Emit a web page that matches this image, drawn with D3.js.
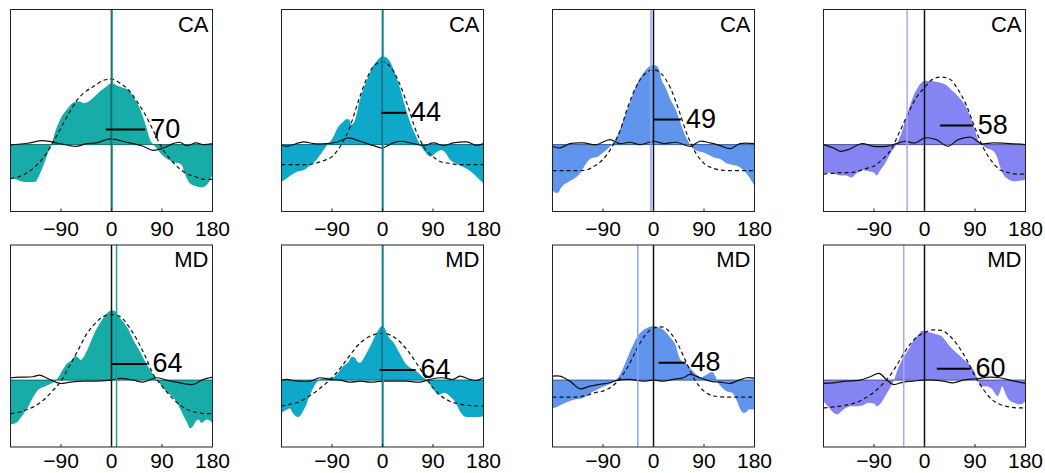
<!DOCTYPE html>
<html>
<head>
<meta charset="utf-8">
<script src="https://cdn.jsdelivr.net/npm/d3@7"></script>
<style>
  body { margin: 0; background: #fff; }
  text { font-family: "Liberation Sans", Arial, Helvetica, sans-serif; }
</style>
</head>
<body>
<div id="chart"></div>
<script>

// ---- data (angle in deg, response in arbitrary units) ----
var areas = ["CA", "MD"];
var tickValues = [-90, 0, 90, 180];
var tickLabels = ["\u221290", "0", "90", "180"];
var fitAngles = [-180, -165, -150, -135, -120, -105, -90, -75, -60, -45, -30, -15, 0,
                 15, 30, 45, 60, 75, 90, 105, 120, 135, 150, 165, 180];

// measured tuning (filled)
var fillCA1 = [[-180,-25],[-170,-26],[-160,-27.5],[-150,-28],[-140,-28],[-135,-27.5],[-130,-24],[-120,-14],[-113,-6],[-107,0],[-100,10],[-90,20],[-80,26],[-70,31],[-60,32.5],[-55,32],[-50,31],[-40,32.5],[-30,36],[-20,40],[-10,43],[0,46],[10,44],[20,42.5],[30,41],[40,35],[50,27.5],[60,16],[70,2.5],[75,0],[80,-2.5],[90,-7.5],[100,-11],[110,-13],[120,-14],[125,-15],[130,-21],[140,-29],[150,-31],[160,-32],[170,-30],[180,-22.5]];
var fillCA2 = [[-180,-28],[-170,-25],[-160,-22],[-150,-20],[-140,-19],[-130,-16],[-120,-12.5],[-110,-7],[-100,-1],[-90,4],[-80,12.5],[-70,17],[-65,19],[-60,19],[-55,15],[-50,17.5],[-40,34],[-30,46],[-20,56],[-10,62.5],[0,66],[10,64],[20,56],[30,44],[40,29],[50,16],[60,6],[67,0],[75,-5],[85,-9],[95,-6],[105,-4],[112,-6],[120,-11],[130,-14],[140,-16],[150,-18],[160,-21],[170,-25],[180,-29]];
var fillCA3 = [[-180,-34],[-175,-36],[-170,-36],[-165,-32.5],[-160,-30],[-150,-27.5],[-140,-25],[-130,-21],[-120,-14],[-110,-10],[-100,-9],[-90,-6],[-80,-2.5],[-70,2.5],[-60,11],[-50,22.5],[-40,34],[-30,45],[-20,52.5],[-10,57.5],[0,59.5],[5,59],[10,56],[15,47.5],[20,44],[30,34],[40,26],[50,14],[60,4],[70,-2.5],[80,-5],[90,-6],[100,-8],[110,-10],[120,-11],[130,-14],[140,-15],[150,-16],[160,-19],[170,-24],[180,-31]];
var fillCA4 = [[-180,-22],[-170,-21],[-160,-22],[-150,-23],[-140,-23],[-130,-24.5],[-120,-21],[-110,-19],[-100,-20],[-90,-21],[-85,-23],[-80,-20],[-70,-14],[-60,-6],[-50,0],[-40,10],[-30,24],[-20,36],[-10,44],[0,47.5],[10,47.5],[20,47],[30,46],[40,44],[50,40],[60,36],[70,31],[80,22.5],[90,11],[95,4],[100,1],[110,-2.5],[120,-4],[128,-8],[135,-17],[140,-22],[150,-26],[160,-27.5],[170,-27],[180,-26]];
var fillMD1 = [[-180,-33],[-170,-32],[-160,-27],[-150,-21],[-140,-13],[-130,-7],[-120,-5],[-110,-3],[-100,-0.75],[-95,1.75],[-90,5.5],[-80,12],[-70,15.5],[-65,18],[-60,17],[-55,15],[-50,17],[-40,25.5],[-30,35.5],[-20,43],[-10,49],[0,52],[5,52],[10,49],[20,44],[30,38],[40,29],[50,22],[60,14],[70,7],[80,0.5],[90,-4.5],[100,-9.5],[110,-13],[120,-19.5],[130,-28],[135,-32],[140,-36],[145,-34.5],[150,-31],[155,-29.5],[160,-32],[170,-29.5],[180,-32]];
var fillMD2 = [[-180,-24.5],[-170,-22],[-165,-21],[-160,-24.5],[-150,-27.5],[-140,-22],[-130,-12],[-120,-3.25],[-115,-0.75],[-110,1],[-100,1.75],[-90,1.75],[-80,5],[-70,10.5],[-60,14],[-55,17.5],[-50,17],[-45,14],[-40,13],[-35,15.5],[-30,19],[-20,27],[-10,35.5],[-5,39],[0,40.5],[5,38],[10,33],[20,28],[30,20.5],[40,13],[50,9],[60,6.75],[70,3],[80,-0.75],[90,-6.5],[100,-11],[110,-9.5],[120,-12],[130,-16.5],[140,-24.5],[150,-27.5],[160,-27.5],[170,-27.5],[180,-27]];
var fillMD3 = [[-180,-21.5],[-170,-19.5],[-160,-17.5],[-150,-15.75],[-140,-14.5],[-130,-14],[-120,-12],[-110,-9],[-100,-7],[-90,-5],[-80,-3.25],[-70,-1],[-60,4],[-50,13],[-40,23],[-30,31.75],[-20,36.75],[-10,39.25],[0,40.5],[10,39.25],[20,36.75],[30,31.75],[40,25.5],[45,18],[50,14.25],[55,13],[60,11.75],[70,6.75],[80,3],[85,1.75],[90,3],[95,4.25],[100,5.5],[105,6],[110,3],[115,-2],[120,-4.5],[130,-8.25],[140,-9.5],[145,-12],[150,-17],[155,-22],[160,-24.5],[165,-24],[170,-22],[180,-22]];
var fillMD4 = [[-180,-15.75],[-170,-20.75],[-165,-23.25],[-160,-25],[-155,-25.75],[-150,-24],[-140,-20.75],[-130,-19.5],[-120,-19.5],[-110,-19],[-100,-17],[-90,-17.5],[-85,-19.5],[-80,-18.25],[-70,-12],[-60,-4.5],[-55,-0.75],[-50,5.5],[-40,15.5],[-30,21.75],[-20,29.25],[-10,34.25],[-5,36.75],[0,36.75],[10,35.5],[20,34.25],[30,33],[40,28],[50,23],[60,19.25],[70,15.5],[80,11.75],[90,5.5],[95,0],[100,-4.5],[110,-4.5],[120,-6.5],[125,-9.5],[130,-12],[135,-8.25],[138,-4.5],[145,-10.75],[150,-14.5],[160,-17],[170,-18.25],[180,-15.75]];

// fitted tuning (dashed), on fitAngles
var fitCA1 = [-25.5,-24,-21,-16,-9,1,12.5,24,34,40,44,48,49,46,41,32.5,22.5,10,-2.5,-11,-17.5,-22,-24,-26,-26];
var fitCA2 = [-15,-15,-15,-15,-14,-12,-9,-1,11,30,47.5,59,62,57.5,46,29,10,-2.5,-9,-13,-14,-15,-15,-15,-15];
var fitCA3 = [-19.5,-19.5,-19.5,-19.5,-19,-16,-11,-2.5,10,29,44,53,56,52.5,42.5,26,7.5,-6,-14,-17.5,-19,-19.5,-19.5,-19.5,-19.5];
var fitCA4 = [-22,-21.5,-21,-21,-20,-18,-16,-11,-4,9,22.5,35,42.5,49,50.5,49,41,29,12.5,-2.5,-12.5,-19,-21,-22,-22];
var fitMD1 = [-25,-24,-22,-19,-14.5,-8,-0.75,10.5,22,34,42,47.5,49,47.5,40.5,30.5,18,4,-4.5,-12,-18,-22,-24,-25,-25];
var fitMD2 = [-19.5,-18,-16.5,-13,-9,-4,1.75,9,17.5,25.5,31,34,35,33.5,29,22,13,3,-5.75,-12,-15.75,-17.75,-18.75,-19.25,-19.5];
var fitMD3 = [-12.75,-12.75,-12.75,-12.5,-11.5,-9.5,-8.25,-5,1,10.5,23,33.5,38.75,39.75,35.5,25.5,11.75,-0.75,-8.25,-11.5,-12.5,-12.75,-12.75,-12.75,-12.75];
var fitMD4 = [-20.75,-20.25,-19.5,-18.25,-16.5,-13.25,-9,-3.25,4.25,14.25,24.25,31.75,35.5,37.5,37.25,33,25.5,15.5,3,-7,-14.5,-18.25,-20,-20.75,-20.75];

// shuffled control (thin black)
var shufCA1 = [[-180,-0.25],[-150,1],[-122,3],[-95,1],[-62,-1.25],[-45,0.75],[-27,1.25],[-3,4.25],[27,1.75],[56,-1.25],[74,-4.25],[92,-2.5],[110,0.75],[122,1.75],[134,-0.75],[151,1.25],[163,0],[180,0.75]];
var shufCA2 = [[-180,-0.5],[-170,-1.25],[-141,2],[-123,0.75],[-100,0.75],[-82,1.75],[-61,5],[-40,2.5],[-16,-0.75],[0,-2.5],[16,0.75],[31,2.5],[55,0.75],[73,-0.75],[91,1.25],[109,-0.75],[126,1.25],[150,2],[168,-0.5],[180,0.75]];
var shufCA3 = [[-180,-1.25],[-167,-2.5],[-149,0.75],[-125,1.25],[-101,0],[-78,3.75],[-60,0.75],[-42,1.75],[-24,0],[0,2.5],[18,0.75],[41,1.75],[65,-1.25],[83,2.5],[101,1.25],[119,-0.75],[137,-3],[154,0.75],[180,0.75]];
var shufCA4 = [[-180,0],[-162,-2.5],[-150,-5],[-133,-3.25],[-112,0.75],[-91,-1.25],[-68,-1.25],[-50,0.75],[-35,2.5],[-17,1.25],[1,5],[21,3.75],[42,-1.25],[60,3.75],[83,5.5],[101,0.75],[122,1.25],[152,0.75],[180,0]];
var shufMD1 = [[-180,1.75],[-163,2.25],[-140,2.5],[-128,3.75],[-110,0.5],[-92,-2.5],[-74,-1.5],[-50,-0.75],[-27,-0.75],[0,0],[15,1.25],[39,0],[56,-1.5],[80,1.75],[98,0],[122,-2],[146,-3.25],[163,0.5],[175,1.75],[180,2.25]];
var shufMD2 = [[-180,0],[-170,0.5],[-153,-0.75],[-129,-0.75],[-112,1.75],[-94,0.5],[-76,0],[-58,-1.5],[-40,-0.75],[-22,-1.5],[0,-0.75],[19,-0.75],[43,-0.75],[67,-1.5],[85,0.5],[106,1.75],[126,0.5],[138,3],[156,0.5],[168,-0.25],[180,1.75]];
var shufMD3 = [[-180,3],[-167,3],[-149,-0.75],[-131,-6.5],[-113,-4.5],[-96,-3.25],[-78,-2],[-63,0],[-42,0.5],[-18,-0.75],[0,0],[18,-0.75],[35,0.5],[53,1.75],[65,4.25],[83,1.75],[101,-0.75],[119,-1.5],[137,-2.5],[148,-0.75],[166,1.75],[180,1.25]];
var shufMD4 = [[-180,-2.5],[-162,-2],[-139,-0.75],[-115,0],[-97,2.5],[-81,5],[-68,0.5],[-56,-3.25],[-38,-1.5],[-20,-0.75],[-2,0],[15,0],[33,-0.75],[51,-2],[69,0],[92,1],[116,2.25],[134,1.75],[152,0],[180,-2.5]];

// preferred direction, half-width bar start, half-width (deg) and bar height
var prefDir  = [1, 1, -4.5, -31, 9, 1, -28, -37];
var hwStart  = [-10, -2, 0, 28, 0, -5, 9, 22];
var halfWidth = [70, 44, 49, 58, 64, 64, 48, 60];
var hwLevel  = [11.25, 23.75, 18.75, 14.25, 12, 7.5, 13, 8.5];

var fills = [fillCA1, fillCA2, fillCA3, fillCA4, fillMD1, fillMD2, fillMD3, fillMD4];
var fits = [fitCA1, fitCA2, fitCA3, fitCA4, fitMD1, fitMD2, fitMD3, fitMD4];
var shufs = [shufCA1, shufCA2, shufCA3, shufCA4, shufMD1, shufMD2, shufMD3, shufMD4];

// ---- style / layout ----
var fillColors = ["#17aca7", "#0ea8ca", "#6194ec", "#8484f2"];
var prefColors = ["#16a19c", "#1eaacb", "#86a8f2", "#aaaaea"];
var panelLeft = [10.5, 281.5, 552.5, 823.5];
var panelTop = [9.5, 245];
var labelGap = [24, 21];
var pw = 202, ph = 202;

var svg = d3.select("#chart")
    .append("svg")
    .attr("width", 1045)
    .attr("height", 473);

var x = d3.scaleLinear().domain([-180, 180]).range([0, pw]);
var y = d3.scaleLinear().domain([-50, 101]).range([ph, 0]);

var area = d3.area()
    .x(function (d) { return x(d[0]) })
    .y0(y(0))
    .y1(function (d) { return y(d[1]) })
    .curve(d3.curveMonotoneX);

var line = d3.line()
    .x(function (d) { return x(d[0]) })
    .y(function (d) { return y(d[1]) })
    .curve(d3.curveCatmullRom);

var fitLine = d3.line()
    .x(function (d) { return x(d[0]) })
    .y(function (d) { return y(d[1]) })
    .curve(d3.curveMonotoneX);

for (var i = 0; i < 8; i++) {
    var row = Math.floor(i / 4), col = i % 4;
    var g = svg.append("g")
        .attr("transform", "translate(" + panelLeft[col] + "," + panelTop[row] + ")");

    // filled measured tuning
    g.append("path")
        .datum(fills[i])
        .attr("d", area)
        .attr("fill", fillColors[col])
        .attr("stroke", "none");

    // zero baseline
    g.append("line")
        .attr("x1", 0).attr("x2", pw)
        .attr("y1", y(0)).attr("y2", y(0))
        .attr("stroke", d3.color(fillColors[col]).darker(1.3))
        .attr("stroke-width", 1);

    // dashed fit
    var fitData = fitAngles.map(function (a, k) { return [a, fits[i][k]] });
    g.append("path")
        .datum(fitData)
        .attr("d", fitLine)
        .attr("fill", "none")
        .attr("stroke", "#111")
        .attr("stroke-width", 1.2)
        .attr("stroke-dasharray", "4,3");

    // shuffled control
    g.append("path")
        .datum(shufs[i])
        .attr("d", line)
        .attr("fill", "none")
        .attr("stroke", "#111")
        .attr("stroke-width", 1.2);

    // zero direction + preferred direction
    g.append("line")
        .attr("x1", x(0)).attr("x2", x(0))
        .attr("y1", 0).attr("y2", ph)
        .attr("stroke", "#111")
        .attr("stroke-width", 1.5);
    g.append("line")
        .attr("x1", x(prefDir[i])).attr("x2", x(prefDir[i]))
        .attr("y1", 0).attr("y2", ph)
        .attr("stroke", prefColors[col])
        .attr("stroke-width", 1.5);

    // half-width bar and value
    g.append("line")
        .attr("x1", x(hwStart[i])).attr("x2", x(hwStart[i] + halfWidth[i]))
        .attr("y1", y(hwLevel[i])).attr("y2", y(hwLevel[i]))
        .attr("stroke", "#000")
        .attr("stroke-width", 2);
    g.append("text")
        .attr("x", x(hwStart[i] + halfWidth[i]) + 5)
        .attr("y", y(hwLevel[i]) + 8)
        .attr("font-size", 27)
        .attr("fill", "#000")
        .text(halfWidth[i]);

    // area label
    g.append("text")
        .attr("x", pw - 4)
        .attr("y", 22)
        .attr("text-anchor", "end")
        .attr("font-size", 22)
        .attr("fill", "#000")
        .text(areas[row]);

    // frame
    g.append("rect")
        .attr("width", pw).attr("height", ph)
        .attr("fill", "none")
        .attr("stroke", "#222")
        .attr("stroke-width", 1);

    // x ticks (inward) + labels
    g.selectAll(".tk")
        .data(tickValues)
        .enter()
        .append("line")
        .attr("x1", function (d) { return x(d) })
        .attr("x2", function (d) { return x(d) })
        .attr("y1", ph).attr("y2", ph - 3)
        .attr("stroke", "#222");
    g.selectAll(".tl")
        .data(tickValues)
        .enter()
        .append("text")
        .attr("x", function (d) { return x(d) })
        .attr("y", ph + labelGap[row])
        .attr("text-anchor", "middle")
        .attr("font-size", 21)
        .attr("fill", "#000")
        .text(function (d, k) { return tickLabels[k] });
}
</script>
</body>
</html>
